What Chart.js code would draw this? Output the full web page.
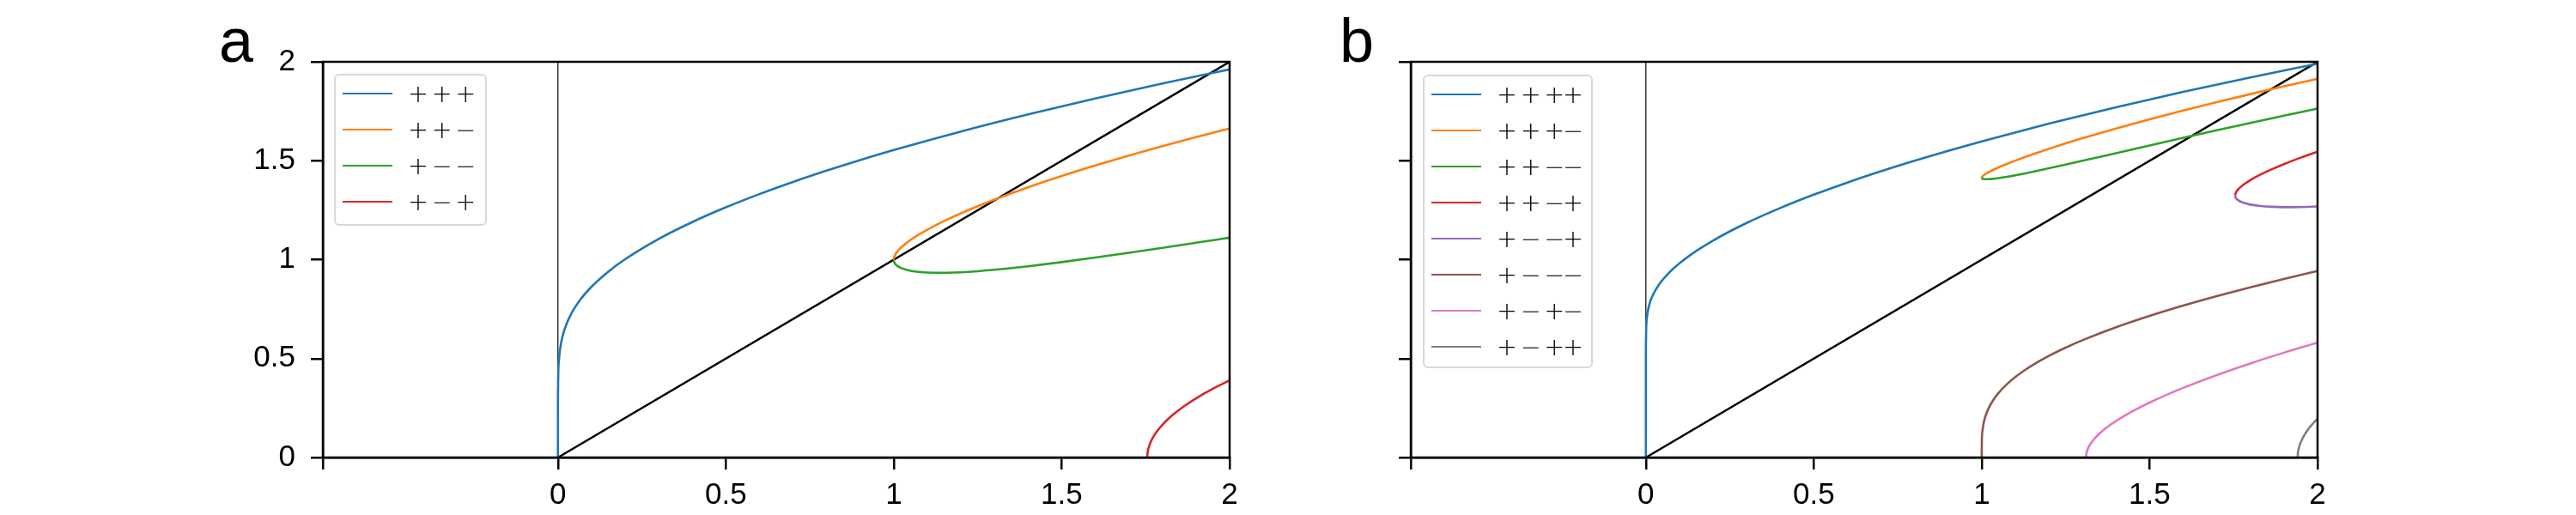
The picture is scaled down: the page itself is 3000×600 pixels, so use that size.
<!DOCTYPE html>
<html>
<head>
<meta charset="utf-8">
<script src="https://cdn.jsdelivr.net/npm/chart.js@4.4.1/dist/chart.umd.min.js"></script>
<style>
html,body{margin:0;padding:0;background:#fff}
#wrap{position:relative;width:3000px;height:600px;overflow:hidden}
canvas{position:absolute;top:0}
#cA{left:0}
#cB{left:1500px}
.panel{position:absolute;top:11px;font-family:"Liberation Sans";font-size:72px;line-height:72px;color:#000}
.legend{position:absolute;box-sizing:border-box;border:2px solid #d9d9d9;border-radius:6px;background:rgba(255,255,255,0.8);padding:0 0 0 8px}
.legend .row{display:flex;align-items:center;height:42px}
.legend .sw{width:58px;height:2.6px;margin-right:18px;flex:none}
.legend .tx{font-family:"DejaVu Sans";font-weight:200;font-size:28.6px;letter-spacing:-2.3px;word-spacing:-0.8px;white-space:pre;line-height:42px;color:#000}
</style>
</head>
<body>
<div id="wrap">
  <canvas id="cA" width="1500" height="600"></canvas>
  <canvas id="cB" width="1500" height="600"></canvas>
  <div class="panel" style="left:255px">a</div>
  <div class="panel" style="left:1560px">b</div>
  <div class="legend" id="legA" style="left:389px;top:86px;width:178px;height:177px"></div>
  <div class="legend" id="legB" style="left:1657px;top:87px;width:198px;height:342px"></div>
</div>
<script>
// axis ticks (first x tick sits on the left edge, no label)
const xTicks = [-0.7, 0, 0.5, 1, 1.5, 2];
const yTicks = [0, 0.5, 1, 1.5, 2];

// x samples for each family of curves
const xFull = [0, 0.00001, 0.0001, 0.001, 0.003, 0.01, 0.02, 0.04, 0.07, 0.1, 0.15, 0.2, 0.3, 0.4, 0.5, 0.6, 0.7, 0.8, 0.9, 1.0, 1.2, 1.4, 1.6, 1.8, 2.0];
const xFromOne = [1, 1.0005, 1.002, 1.005, 1.01, 1.02, 1.035, 1.05, 1.075, 1.1, 1.13, 1.16, 1.2, 1.25, 1.3, 1.4, 1.5, 1.6, 1.7, 1.8, 1.9, 2.0];
const xFromRed = [1.7549, 1.755, 1.756, 1.758, 1.762, 1.77, 1.78, 1.8, 1.83, 1.86, 1.9, 1.95, 2.0];
const xFromPink = [1.3107, 1.311, 1.312, 1.315, 1.32, 1.33, 1.35, 1.38, 1.42, 1.46, 1.5, 1.55, 1.6, 1.7, 1.8, 1.9, 2.0];
const xFromGray = [1.9408, 1.941, 1.942, 1.945, 1.95, 1.96, 1.97, 1.98, 1.99, 2.0];

// panel a
const yPPP = [0, 0.2374, 0.3172, 0.4262, 0.4933, 0.5845, 0.6494, 0.7279, 0.8053, 0.8632, 0.9397, 1.0022, 1.1049, 1.1900, 1.2644, 1.3313, 1.3927, 1.4497, 1.5032, 1.5538, 1.6478, 1.7341, 1.8146, 1.8901, 1.9616];
const yPPM = [1, 1.0081, 1.0167, 1.0271, 1.0396, 1.0584, 1.0807, 1.0996, 1.1271, 1.1516, 1.1785, 1.2033, 1.2342, 1.2701, 1.3038, 1.3659, 1.4229, 1.4761, 1.5262, 1.5739, 1.6193, 1.6629];
const yPMM = [1, 0.9923, 0.9851, 0.9772, 0.9691, 0.9590, 0.9498, 0.9439, 0.9379, 0.9347, 0.9334, 0.9338, 0.9363, 0.9417, 0.9488, 0.9666, 0.9876, 1.0105, 1.0347, 1.0597, 1.0853, 1.1111];
const yPMP = [0, 0.0086, 0.0261, 0.0436, 0.0658, 0.0959, 0.1237, 0.1659, 0.2144, 0.2540, 0.2989, 0.3474, 0.3902];

// panel b
const yPPPP = [0, 0.4872, 0.5633, 0.6536, 0.7045, 0.7711, 0.8182, 0.8763, 0.9356, 0.9814, 1.0439, 1.0965, 1.1853, 1.2610, 1.3283, 1.3897, 1.4466, 1.4999, 1.5502, 1.5981, 1.6875, 1.7704, 1.8479, 1.9210, 1.9904];
const yPPPM = [1.4142, 1.4173, 1.4208, 1.4255, 1.4316, 1.4417, 1.4545, 1.4661, 1.4840, 1.5005, 1.5194, 1.5373, 1.5602, 1.5875, 1.6136, 1.6631, 1.7096, 1.7539, 1.7962, 1.8368, 1.8760, 1.9139];
const yPPMM = [1.4142, 1.4117, 1.4096, 1.4079, 1.4068, 1.4068, 1.4088, 1.4121, 1.4188, 1.4264, 1.4364, 1.4470, 1.4616, 1.4804, 1.4996, 1.5384, 1.5772, 1.6157, 1.6537, 1.6911, 1.7278, 1.7638];
const yPPMP = [1.3247, 1.3280, 1.3350, 1.3422, 1.3520, 1.3660, 1.3797, 1.4021, 1.4298, 1.4539, 1.4829, 1.5157, 1.5460];
const yPMMP = [1.3247, 1.3215, 1.3153, 1.3094, 1.3024, 1.2939, 1.2870, 1.2783, 1.2711, 1.2673, 1.2653, 1.2659, 1.2688];
const yPMMM = [0, 0.0905, 0.1301, 0.1667, 0.2022, 0.2469, 0.2919, 0.3257, 0.3703, 0.4065, 0.4434, 0.4756, 0.5135, 0.5553, 0.5926, 0.6583, 0.7158, 0.7678, 0.8157, 0.8604, 0.9026, 0.9428];
const yPMPM = [0, 0.0103, 0.0215, 0.0391, 0.0577, 0.0835, 0.1202, 0.1615, 0.2058, 0.2437, 0.2777, 0.3163, 0.3520, 0.4168, 0.4755, 0.5298, 0.5806];
const yPMPP = [0, 0.0114, 0.0279, 0.0521, 0.0771, 0.1115, 0.1375, 0.1594, 0.1787, 0.1960];

// reference lines
const xDiag = [0, 2], yDiag = [0, 2];
const xZero = [0, 0], yZero = [0, 2];

const tab = ['#1f77b4', '#ff7f0e', '#2ca02c', '#d62728', '#9467bd', '#8c564b', '#e377c2', '#7f7f7f'];

function pts(xs, ys) { return xs.map((x, i) => ({x: x, y: ys[i]})) }
function curve(label, xs, ys, color) {
  return {label: label, data: pts(xs, ys), borderColor: color, backgroundColor: color, borderWidth: 2.6, pointRadius: 0, cubicInterpolationMode: 'monotone', fill: false};
}
function guides() {
  return [
    {label: '', data: pts(xZero, yZero), borderColor: '#000', borderWidth: 1.2, pointRadius: 0, fill: false},
    {label: '', data: pts(xDiag, yDiag), borderColor: '#000', borderWidth: 2.4, pointRadius: 0, fill: false}
  ];
}

// box round the plot area (top and right spines)
const frame = {id: 'frame', afterDraw(c) {
  const a = c.chartArea, g = c.ctx;
  g.save(); g.strokeStyle = '#000'; g.lineWidth = 2.5;
  g.strokeRect(a.left, a.top, a.right - a.left, a.bottom - a.top);
  g.restore();
}};

const tickFont = {family: 'Liberation Sans', size: 35};

function makeChart(id, sets, yWidth, padRight, yLabels) {
  return new Chart(document.getElementById(id), {
    type: 'line',
    data: {datasets: sets},
    options: {
      responsive: false, animation: false, devicePixelRatio: 1,
      layout: {padding: {top: 72, right: padRight, bottom: 0, left: 0}},
      plugins: {legend: {display: false}, tooltip: {enabled: false}},
      scales: {
        x: {type: 'linear', min: -0.7, max: 2,
          afterBuildTicks: s => { s.ticks = xTicks.map(v => ({value: v})) },
          afterFit: s => { s.height = 67 },
          ticks: {callback: v => v === -0.7 ? '' : String(v), font: tickFont, color: '#000', padding: 9, maxRotation: 0, autoSkip: false},
          grid: {drawOnChartArea: false, tickLength: 14, color: '#000', lineWidth: 2.5},
          border: {color: '#000', width: 2.5}},
        y: {type: 'linear', min: 0, max: 2,
          afterBuildTicks: s => { s.ticks = yTicks.map(v => ({value: v})) },
          afterFit: s => { s.width = yWidth },
          ticks: {callback: v => yLabels ? String(v) : '', font: tickFont, color: '#000', padding: 18, autoSkip: false},
          grid: {drawOnChartArea: false, tickLength: 14, color: '#000', lineWidth: 2.5},
          border: {color: '#000', width: 2.5}}
      }
    },
    plugins: [frame]
  });
}

function buildLegend(chart, el) {
  chart.data.datasets.filter(d => d.label).forEach(d => {
    const row = document.createElement('div'); row.className = 'row';
    const sw = document.createElement('span'); sw.className = 'sw'; sw.style.background = d.borderColor;
    const tx = document.createElement('span'); tx.className = 'tx'; tx.textContent = d.label;
    row.appendChild(sw); row.appendChild(tx); el.appendChild(row);
  });
}

const setsA = [
  curve('+ + +', xFull, yPPP, tab[0]),
  curve('+ + −', xFromOne, yPPM, tab[1]),
  curve('+ − −', xFromOne, yPMM, tab[2]),
  curve('+ − +', xFromRed, yPMP, tab[3])
].concat(guides());

const setsB = [
  curve('+ + ++', xFull, yPPPP, tab[0]),
  curve('+ + +−', xFromOne, yPPPM, tab[1]),
  curve('+ + −−', xFromOne, yPPMM, tab[2]),
  curve('+ + −+', xFromRed, yPPMP, tab[3]),
  curve('+ − −+', xFromRed, yPMMP, tab[4]),
  curve('+ − −−', xFromOne, yPMMM, tab[5]),
  curve('+ − +−', xFromPink, yPMPM, tab[6]),
  curve('+ − ++', xFromGray, yPMPP, tab[7])
].concat(guides());

const chartA = makeChart('cA', setsA, 376, 68, true);
const chartB = makeChart('cB', setsB, 143, 301, false);
buildLegend(chartA, document.getElementById('legA'));
buildLegend(chartB, document.getElementById('legB'));
</script>
</body>
</html>
